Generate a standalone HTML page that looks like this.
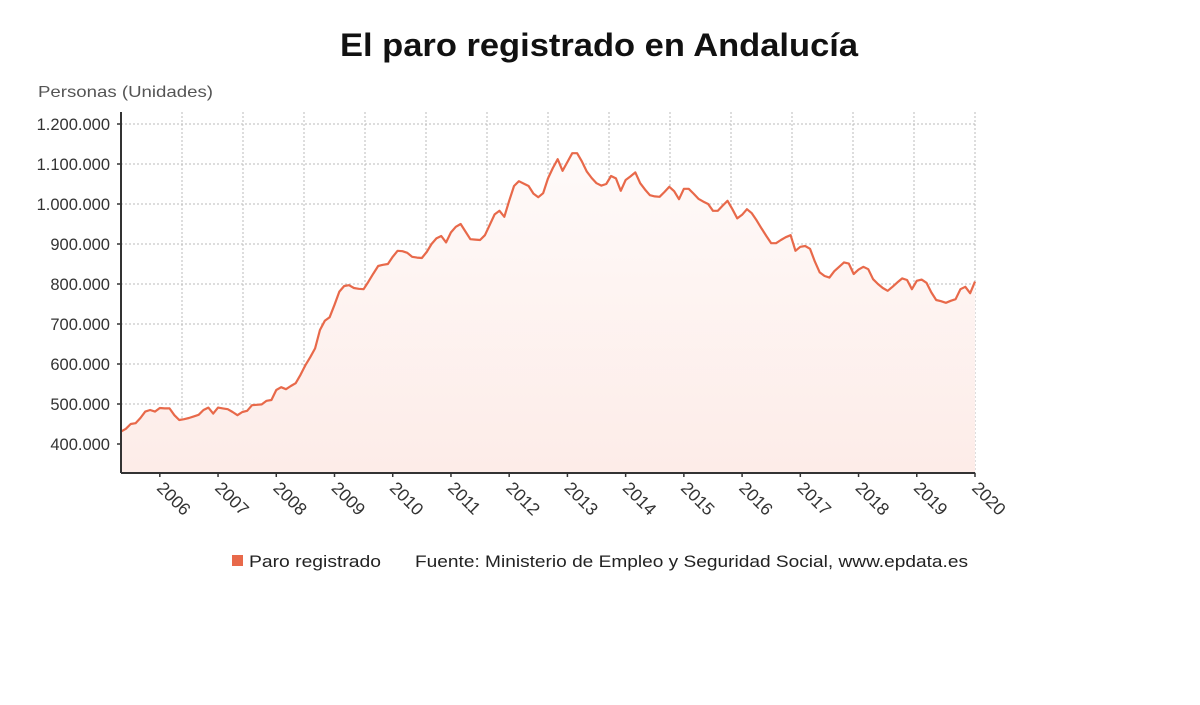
<!DOCTYPE html>
<html><head><meta charset="utf-8"><style>
body{margin:0;background:#fff;}
svg{display:block;font-family:"Liberation Sans","DejaVu Sans",sans-serif;}
</style></head><body>
<svg id="chart" width="1200" height="705" viewBox="0 0 1200 705">
<defs><linearGradient id="fillg" x1="0" y1="0" x2="0" y2="1">
<stop offset="0" stop-color="#fefaf9"/><stop offset="1" stop-color="#fdece8"/></linearGradient></defs>
<text x="340" y="56" textLength="518" lengthAdjust="spacingAndGlyphs" font-size="32" font-weight="bold" fill="#111">El paro registrado en Andalucía</text>
<text x="38" y="97" textLength="175" lengthAdjust="spacingAndGlyphs" font-size="16" fill="#555">Personas (Unidades)</text>
<g id="grid"></g><g id="series"></g><g id="axes"></g>
<g>
<rect x="232" y="555" width="11" height="11" fill="#e8694a"/>
<text x="249" y="567" textLength="132" lengthAdjust="spacingAndGlyphs" font-size="17" fill="#222">Paro registrado</text>
<text x="415" y="567" textLength="553" lengthAdjust="spacingAndGlyphs" font-size="17" fill="#222">Fuente: Ministerio de Empleo y Seguridad Social, www.epdata.es</text>
</g>
</svg>
<script>
const startYear = 2005, startMonth = 4; // May 2005 (0-based month)
const values = [431,438,450,452,465,481,485,481,490,489,489,472,460,462,465,469,473,485,491,476,491,489,487,480,472,480,483,497,498,499,508,510,535,542,537,545,552,573,597,617,639,685,708,717,748,781,795,797,790,788,787,806,826,845,848,850,868,883,882,878,868,866,865,880,900,914,920,904,929,943,950,931,912,911,910,922,948,974,983,968,1008,1045,1057,1051,1045,1026,1017,1027,1064,1090,1112,1083,1105,1127,1127,1106,1081,1065,1052,1046,1050,1070,1064,1033,1060,1069,1079,1052,1036,1022,1019,1018,1030,1043,1032,1012,1038,1038,1026,1013,1006,1000,983,983,996,1008,987,964,973,987,977,959,939,920,902,902,910,917,922,883,893,895,888,856,829,820,816,832,843,854,851,825,836,843,837,812,800,790,783,793,804,814,810,787,808,811,803,779,760,757,753,758,762,787,793,777,806];
const yTicks = [400000,500000,600000,700000,800000,900000,1000000,1100000,1200000];
const xYears = [2006,2007,2008,2009,2010,2011,2012,2013,2014,2015,2016,2017,2018,2019,2020];
const NS="http://www.w3.org/2000/svg";
const L=121,R=975,T=112,B=473;
const n=values.length;
function xm(i){return L+(R-L)*i/(n-1);}
function xYear(y){return xm((y-startYear)*12-startMonth);}
function yv(v){return 124+(1200000-v)*320/800000;}
function mk(tag,attrs,parent){const e=document.createElementNS(NS,tag);for(const k in attrs)e.setAttribute(k,attrs[k]);parent.appendChild(e);return e;}
const grid=document.getElementById('grid'),axes=document.getElementById('axes'),series=document.getElementById('series');
function fmt(v){return v.toString().replace(/\B(?=(\d{3})+(?!\d))/g,'.');}
yTicks.forEach(v=>{
  const y=yv(v);
  const g=mk('line',{x1:L,x2:R,y1:y,y2:y,stroke:'#bbb','stroke-dasharray':'2,2','stroke-width':1},grid);
  
  
  const t=mk('line',{x1:L-4,x2:L,y1:y,y2:y,stroke:'#333','stroke-width':1.5},axes);
  
  
  const tx=mk('text',{x:110,y:y+6,'text-anchor':'end','font-size':16.5,fill:'#333'},axes);
  tx.textContent=fmt(v);
  
  
});
for(let k=1;k<=14;k++){
  const x=L+(R-L)*k/14;
  const g=mk('line',{x1:x,x2:x,y1:T,y2:B,stroke:'#bbb','stroke-dasharray':'2,2','stroke-width':1},grid);
  
  
}
let pts=[];
values.forEach((v,i)=>{pts.push(xm(i).toFixed(2)+','+yv(v*1000).toFixed(2));});
const area=mk('path',{d:'M'+L+','+B+' L'+pts.join(' L')+' L'+R+','+B+' Z',fill:'url(#fillg)'},series);


const line=mk('path',{d:'M'+pts.join(' L'),fill:'none',stroke:'#e8694a','stroke-width':2.2,'stroke-linejoin':'round'},series);


const ya=mk('line',{x1:L,x2:L,y1:T,y2:B,stroke:'#333','stroke-width':2},axes);


const xa=mk('line',{x1:L,x2:R,y1:B,y2:B,stroke:'#333','stroke-width':2},axes);


xYears.forEach(yr=>{
  const x=xYear(yr);
  const t=mk('line',{x1:x,x2:x,y1:B,y2:B+4,stroke:'#333','stroke-width':1.5},axes);
  
  
  const tx=mk('text',{x:0,y:0,'font-size':17.5,fill:'#333',transform:'translate('+(x-4)+','+(B+16)+') rotate(45)'},axes);
  tx.textContent=yr;
  
  
});
</script>
</body></html>
